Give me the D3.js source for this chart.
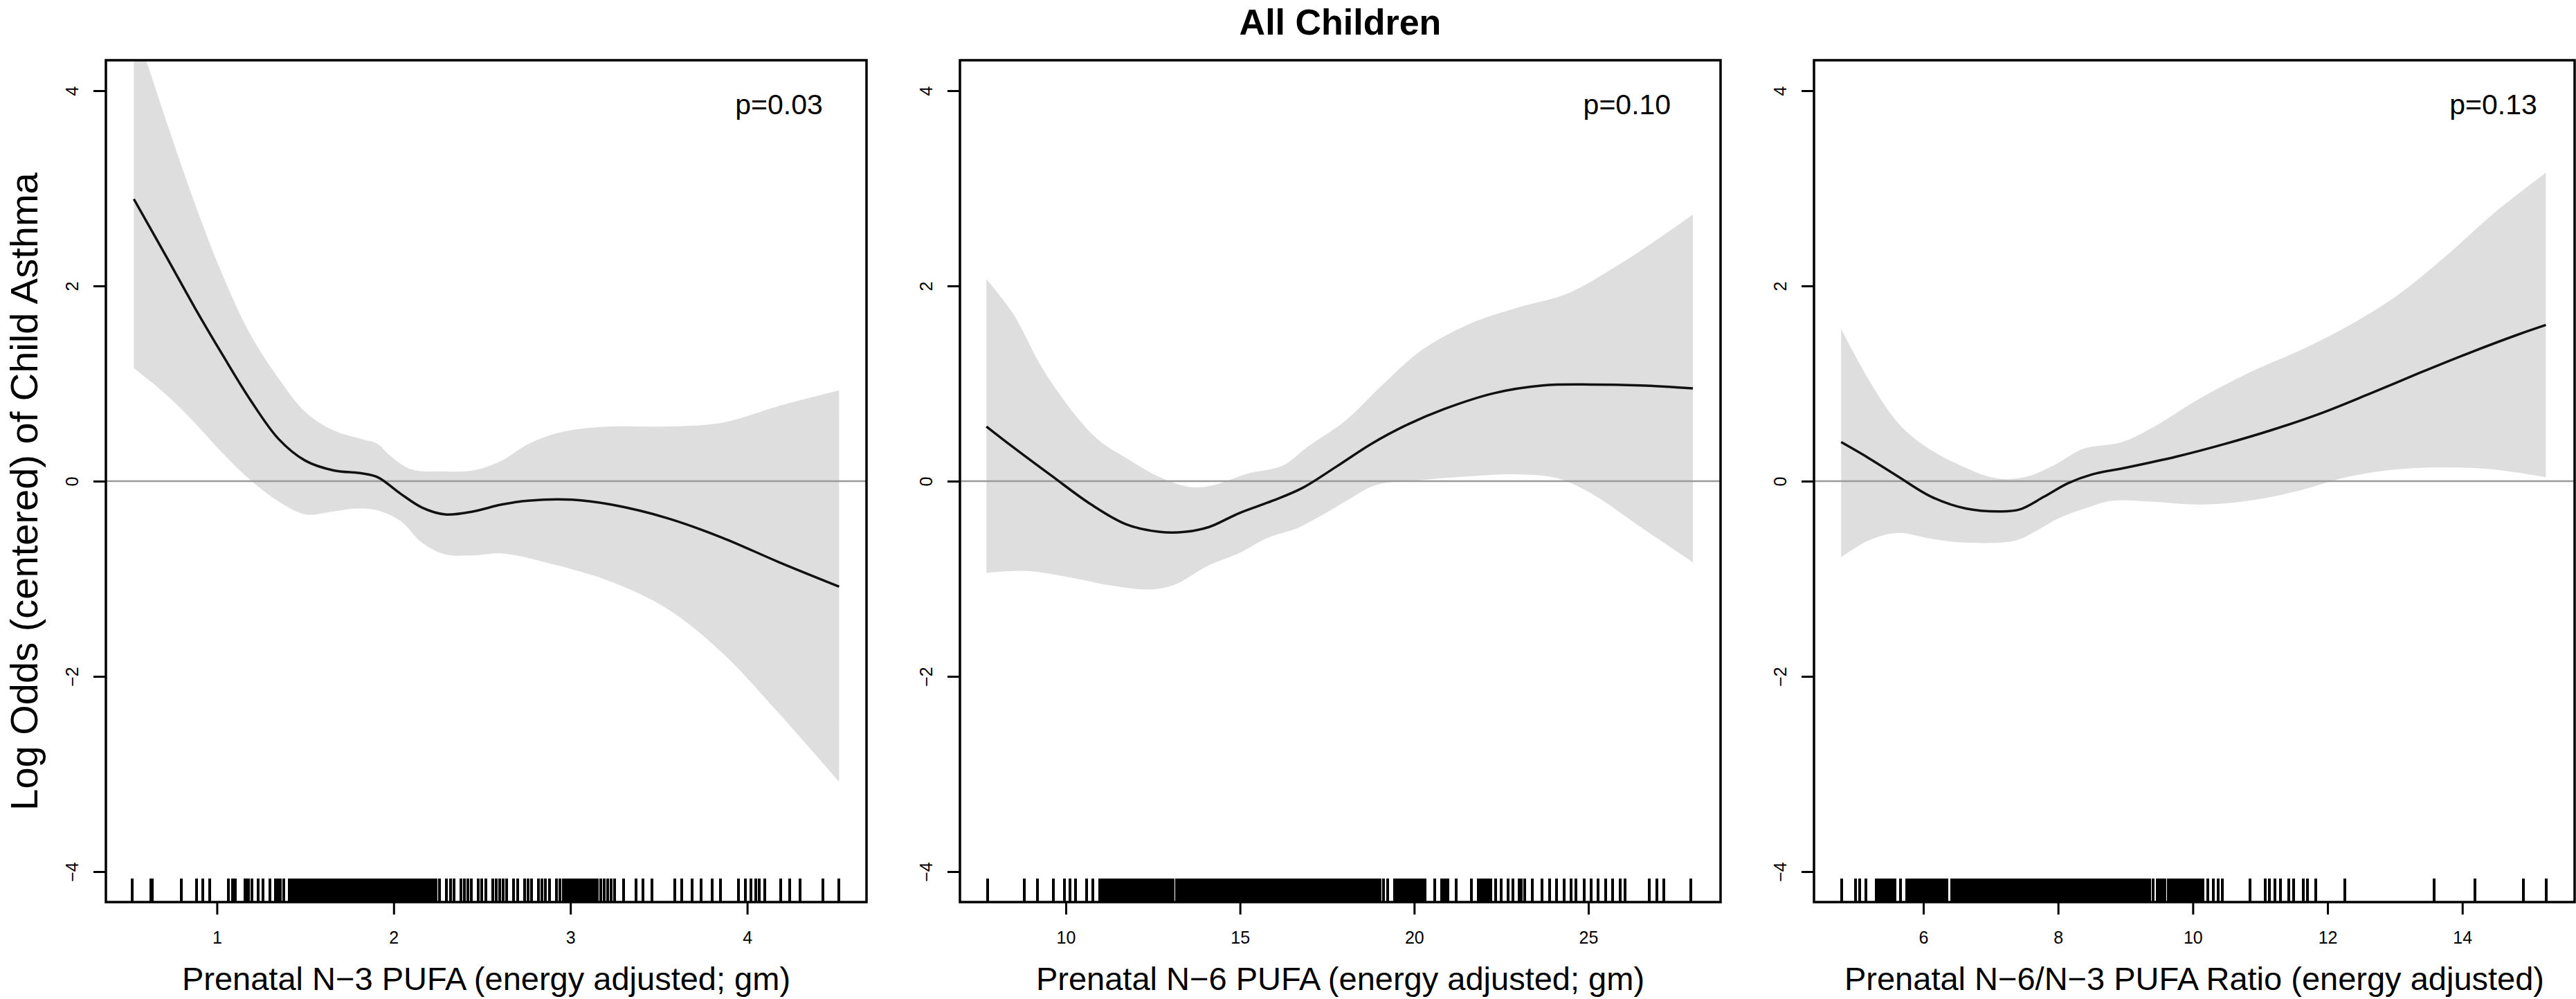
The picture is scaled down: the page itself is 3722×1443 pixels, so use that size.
<!DOCTYPE html>
<html><head><meta charset="utf-8">
<script src="https://cdn.jsdelivr.net/npm/d3@7"></script>
<style>
html,body{margin:0;padding:0;background:#fff;}
svg{display:block;}
text{font-family:"Liberation Sans",Arial,Helvetica,sans-serif;fill:#000;}
</style>
</head><body>
<svg id="chart" width="3722" height="1443"></svg>
<script>
// ---------------- DATA ----------------
const title = "All Children";
const yAxisLabel = "Log Odds (centered) of Child Asthma";
const yTicks = [-4, -2, 0, 2, 4];

const xLabels = ["Prenatal N\u22123 PUFA (energy adjusted; gm)",
                 "Prenatal N\u22126 PUFA (energy adjusted; gm)",
                 "Prenatal N\u22126/N\u22123 PUFA Ratio (energy adjusted)"];
const pValues = ["p=0.03", "p=0.10", "p=0.13"];

const n3Ticks = [1, 2, 3, 4];
const n6Ticks = [10, 15, 20, 25];
const ratioTicks = [6, 8, 10, 12, 14];

// Panel 1: N-3 PUFA
const n3Fit = [[0.53,2.89],[0.717,2.29],[0.874,1.78],[1.03,1.30],[1.19,0.83],[1.35,0.43],[1.50,0.21],[1.66,0.11],[1.82,0.08],[1.91,0.04],[2.04,-0.13],[2.16,-0.27],[2.29,-0.34],[2.45,-0.31],[2.61,-0.24],[2.76,-0.20],[3.01,-0.19],[3.23,-0.24],[3.55,-0.38],[3.86,-0.58],[4.18,-0.83],[4.52,-1.08]];
const n3Upper = [[0.53,4.63],[0.597,4.32],[0.717,3.67],[0.874,2.85],[1.03,2.12],[1.19,1.50],[1.35,1.05],[1.50,0.71],[1.66,0.52],[1.82,0.43],[1.91,0.38],[1.98,0.26],[2.10,0.12],[2.29,0.10],[2.45,0.11],[2.61,0.21],[2.76,0.38],[2.92,0.49],[3.08,0.54],[3.23,0.56],[3.55,0.56],[3.86,0.60],[4.18,0.77],[4.52,0.93]];
const n3Lower = [[0.53,1.16],[0.717,0.88],[0.874,0.60],[1.03,0.29],[1.19,0.01],[1.35,-0.21],[1.50,-0.34],[1.66,-0.31],[1.79,-0.28],[1.91,-0.30],[2.04,-0.41],[2.16,-0.63],[2.29,-0.75],[2.45,-0.76],[2.61,-0.74],[2.92,-0.86],[3.23,-1.03],[3.55,-1.31],[3.86,-1.76],[4.18,-2.38],[4.52,-3.08]];
const n3Rug = [0.52,0.625,0.635,0.80,0.885,0.92,0.96,1.065,1.09,1.105,1.16,1.17,1.18,1.20,1.235,1.26,1.30,1.33,1.345,1.36,1.38,
1.41,1.42,1.43,1.44,1.45,1.46,1.47,1.48,1.49,1.50,1.51,1.52,1.53,1.54,1.55,1.56,1.57,1.58,1.59,1.60,1.61,1.62,1.63,1.64,1.65,1.66,1.67,1.68,1.69,1.70,1.71,1.72,1.73,1.74,1.75,1.76,1.77,1.78,1.79,1.80,1.81,1.82,1.83,1.84,1.85,1.86,1.87,1.88,1.89,1.90,1.91,1.92,1.93,1.94,1.95,1.96,1.97,1.98,1.99,2.00,2.01,2.02,2.03,2.04,2.05,2.06,2.07,2.08,2.09,2.10,2.11,2.12,2.13,2.14,2.15,2.16,2.17,2.18,2.19,2.20,2.21,2.22,2.23,2.24,
2.26,2.30,2.32,2.34,2.38,2.40,2.42,2.44,2.48,2.50,2.52,2.56,2.58,2.60,2.62,2.64,2.68,2.70,2.74,2.76,2.78,2.82,2.84,2.86,2.88,2.92,2.94,2.96,
2.97,2.98,2.99,3.00,3.01,3.02,3.03,3.04,3.05,3.06,3.07,3.08,3.09,3.10,3.11,3.12,3.13,3.14,3.15,
3.17,3.19,3.21,3.23,3.25,3.30,3.37,3.41,3.46,3.59,3.63,3.69,3.74,3.80,3.85,3.95,3.99,4.02,4.05,4.07,4.10,4.19,4.24,4.30,4.43,4.52];

// Panel 2: N-6 PUFA
const n6Fit = [[7.72,0.56],[8.48,0.35],[9.61,0.05],[10.73,-0.24],[11.72,-0.44],[12.70,-0.52],[13.41,-0.52],[14.11,-0.47],[14.96,-0.33],[15.94,-0.20],[16.79,-0.07],[17.77,0.15],[18.76,0.38],[19.75,0.57],[20.87,0.74],[22.28,0.90],[23.69,0.98],[25.1,0.99],[26.5,0.98],[28.0,0.95]];
const n6Upper = [[7.72,2.07],[8.48,1.72],[9.32,1.16],[10.31,0.66],[11.01,0.40],[11.72,0.24],[12.70,0.04],[13.55,-0.06],[14.25,-0.04],[15.24,0.08],[16.23,0.16],[16.93,0.35],[18.06,0.63],[19.04,0.97],[20.17,1.33],[21.58,1.61],[22.99,1.78],[24.39,1.92],[25.80,2.20],[26.79,2.43],[28.0,2.73]];
const n6Lower = [[7.72,-0.94],[8.90,-0.92],[10.31,-1.00],[11.30,-1.07],[12.42,-1.11],[13.13,-1.06],[14.11,-0.86],[14.96,-0.74],[15.80,-0.58],[16.65,-0.48],[17.35,-0.35],[18.06,-0.20],[18.90,-0.04],[20.17,0.01],[21.58,0.05],[22.99,0.07],[24.11,0.03],[25.10,-0.13],[26.5,-0.47],[28.0,-0.83]];
const n6Rug = [7.76,8.81,9.19,9.65,9.97,10.11,10.28,10.59,10.77,10.98,
11.01,11.07,11.13,11.19,11.25,11.31,11.37,11.43,11.49,11.55,11.61,11.67,11.73,11.79,11.85,11.91,11.97,12.03,12.09,12.15,12.21,12.27,12.33,12.39,12.45,12.51,12.57,12.63,12.69,12.75,12.81,12.87,12.93,12.99,13.05,13.08,
13.18,13.24,13.30,13.36,13.42,13.48,13.54,13.60,13.66,13.72,13.78,13.84,13.90,13.96,14.02,14.08,14.14,14.20,14.26,14.32,14.38,14.44,14.50,14.56,14.62,14.68,14.74,14.80,14.86,14.92,14.98,15.04,15.10,15.16,15.22,15.28,15.34,15.40,15.46,15.52,15.58,15.64,15.70,15.76,15.82,15.88,15.94,16.00,16.06,16.12,16.18,16.24,16.30,16.36,16.42,16.48,16.54,16.60,16.66,16.72,16.78,16.84,16.90,16.96,17.02,17.08,17.14,17.20,17.26,17.32,17.38,17.44,17.50,17.56,17.62,17.68,17.74,17.80,17.86,17.92,17.98,18.04,18.10,18.16,18.22,18.28,18.34,18.40,18.46,18.52,18.58,18.64,18.70,18.76,18.82,18.88,18.94,
19.02,19.12,19.24,
19.43,19.49,19.55,19.61,19.67,19.73,19.79,19.85,19.91,19.97,20.03,20.09,20.15,20.21,20.27,20.31,
20.59,20.78,20.84,20.90,20.96,21.20,21.64,21.85,21.91,21.97,22.03,22.09,22.15,22.20,22.34,22.50,22.69,22.83,23.01,23.07,23.18,23.39,23.67,23.88,24.09,24.30,24.51,24.65,24.89,25.07,25.28,25.49,25.70,25.91,26.05,26.75,26.96,27.17,27.95];

// Panel 3: N-6/N-3 ratio
const ratioFit = [[4.78,0.40],[5.18,0.24],[5.62,0.05],[6.12,-0.16],[6.63,-0.28],[7.14,-0.31],[7.43,-0.29],[7.79,-0.16],[8.15,-0.02],[8.51,0.07],[9.02,0.14],[9.75,0.25],[10.47,0.38],[11.20,0.53],[11.92,0.70],[12.64,0.90],[13.37,1.11],[14.09,1.31],[14.82,1.50],[15.24,1.60]];
const ratioUpper = [[4.78,1.56],[5.18,1.05],[5.62,0.60],[5.98,0.38],[6.49,0.18],[7.07,0.03],[7.50,0.04],[7.93,0.16],[8.37,0.33],[8.95,0.40],[9.38,0.54],[10.11,0.85],[10.83,1.11],[11.56,1.33],[12.28,1.58],[13.01,1.89],[13.73,2.29],[14.46,2.74],[15.24,3.16]];
const ratioLower = [[4.78,-0.78],[5.18,-0.61],[5.62,-0.53],[6.12,-0.59],[6.63,-0.63],[7.36,-0.61],[7.65,-0.52],[8.01,-0.38],[8.44,-0.27],[8.80,-0.20],[9.38,-0.21],[10.11,-0.24],[10.83,-0.20],[11.56,-0.10],[12.28,0.04],[13.01,0.12],[13.73,0.14],[14.46,0.12],[15.24,0.04]];
const ratioRug = [4.79,4.99,5.05,5.15,5.30,5.33,5.36,5.39,5.42,5.45,5.48,5.51,5.54,5.58,5.66,
5.75,5.78,5.81,5.84,5.87,5.90,5.93,5.96,5.99,6.02,6.05,6.08,6.11,6.14,6.17,6.20,6.23,6.26,6.29,6.32,6.35,
6.42,6.45,6.48,6.51,6.54,6.57,6.60,6.63,6.66,6.69,6.72,6.75,6.78,6.81,6.84,6.87,6.90,6.93,6.96,6.99,7.02,7.05,7.08,7.11,7.14,7.17,7.20,7.23,7.26,7.29,7.32,7.35,7.38,7.41,7.44,7.47,7.50,7.53,7.56,7.59,7.62,7.65,7.68,7.71,7.74,7.77,7.80,7.83,7.86,7.89,7.92,7.95,7.98,8.01,8.04,8.07,8.10,8.13,8.16,8.19,8.22,8.25,8.28,8.31,8.34,8.37,8.40,8.43,8.46,8.49,8.52,8.55,8.58,8.61,8.64,8.67,8.70,8.73,8.76,8.79,8.82,8.85,8.88,8.91,8.94,8.97,9.00,9.03,9.06,9.09,9.12,9.15,9.18,9.21,9.24,9.27,9.30,9.33,9.36,
9.41,9.47,9.50,9.53,9.56,9.59,
9.64,9.67,9.70,9.73,9.76,9.79,9.82,9.85,9.88,9.91,9.94,9.97,10.00,10.03,10.06,10.09,10.12,10.15,
10.22,10.30,10.38,10.44,10.85,11.08,11.14,11.22,11.30,11.42,11.50,11.64,11.70,11.82,12.26,13.58,14.19,14.91,15.245];

// ---------------- LAYOUT ----------------
const L = {
  lefts: [153, 1387, 2621], width: 1099, top: 87, bottom: 1303,
  yDomain: [-4.312, 4.312],
  xDomains: [[0.372, 4.675], [6.96, 28.795], [4.377, 15.667]],
  pCenterX: [4.18, 26.11, 14.46], pBaseline: 165,
  tickLen: 18, rugLen: 34
};

const panels = [
  {ticks: n3Ticks, fit: n3Fit, upper: n3Upper, lower: n3Lower, rug: n3Rug},
  {ticks: n6Ticks, fit: n6Fit, upper: n6Upper, lower: n6Lower, rug: n6Rug},
  {ticks: ratioTicks, fit: ratioFit, upper: ratioUpper, lower: ratioLower, rug: ratioRug}
];

const svg = d3.select("#chart");
svg.append("rect").attr("width", 3722).attr("height", 1443).attr("fill", "#fff");

const y = d3.scaleLinear().domain(L.yDomain).range([L.bottom, L.top]);

panels.forEach((p, i) => {
  const left = L.lefts[i], right = left + L.width;
  const x = d3.scaleLinear().domain(L.xDomains[i]).range([left, right]);
  const g = svg.append("g");

  const clipId = "clip" + i;
  svg.append("clipPath").attr("id", clipId).append("rect")
    .attr("x", left).attr("y", L.top).attr("width", L.width).attr("height", L.bottom - L.top);

  const line = d3.line().x(d => x(d[0])).y(d => y(d[1])).curve(d3.curveCatmullRom.alpha(0.5));
  const upPath = line(p.upper);
  const loPath = line(p.lower.slice().reverse());
  g.append("path").attr("clip-path", `url(#${clipId})`)
    .attr("d", upPath + "L" + loPath.slice(1) + "Z")
    .attr("fill", "#dedede").attr("stroke", "none");

  // zero reference line
  g.append("line").attr("x1", left).attr("x2", right).attr("y1", y(0)).attr("y2", y(0))
    .attr("stroke", "#9a9a9a").attr("stroke-width", 2.5);

  // fitted curve
  g.append("path").attr("clip-path", `url(#${clipId})`)
    .attr("d", line(p.fit)).attr("fill", "none").attr("stroke", "#111").attr("stroke-width", 3.5);

  // rug
  g.append("g").attr("shape-rendering", "crispEdges").selectAll("line").data(p.rug).join("line")
    .attr("x1", d => x(d)).attr("x2", d => x(d))
    .attr("y1", L.bottom).attr("y2", L.bottom - L.rugLen)
    .attr("stroke", "#000").attr("stroke-width", 4);

  // frame
  g.append("rect").attr("x", left).attr("y", L.top).attr("width", L.width).attr("height", L.bottom - L.top)
    .attr("fill", "none").attr("stroke", "#000").attr("stroke-width", 3.5);

  // x axis
  const xa = g.append("g").attr("transform", `translate(0,${L.bottom})`)
    .call(d3.axisBottom(x).tickValues(p.ticks).tickSize(L.tickLen).tickFormat(d3.format("d")));
  xa.select(".domain").remove();
  xa.selectAll(".tick line").attr("stroke", "#000").attr("stroke-width", 3);
  xa.selectAll(".tick text").attr("y", 60).attr("dy", null)
    .style("font-family", '"Liberation Sans",Arial,sans-serif').style("font-size", "25px").attr("fill", "#000");

  // y axis
  const ya = g.append("g").attr("transform", `translate(${left},0)`)
    .call(d3.axisLeft(y).tickValues(yTicks).tickSize(L.tickLen).tickFormat(d3.format("d")));
  ya.select(".domain").remove();
  ya.selectAll(".tick line").attr("stroke", "#000").attr("stroke-width", 3);
  ya.selectAll(".tick text").attr("x", null).attr("dy", null).attr("text-anchor", "middle")
    .attr("transform", "translate(-40,0) rotate(-90)")
    .style("font-family", '"Liberation Sans",Arial,sans-serif').style("font-size", "25px").attr("fill", "#000");

  // x label
  g.append("text").attr("x", (left + right) / 2).attr("y", 1430).attr("text-anchor", "middle")
    .style("font-size", "47px").text(xLabels[i]);

  // p-value
  g.append("text").attr("x", x(L.pCenterX[i])).attr("y", L.pBaseline).attr("text-anchor", "middle")
    .style("font-size", "41px").text(pValues[i]);
});

// title
svg.append("text").attr("x", L.lefts[1] + L.width / 2).attr("y", 50).attr("text-anchor", "middle")
  .style("font-size", "52px").style("font-weight", "bold").text(title);

// y label
svg.append("text").attr("transform", "translate(54,710) rotate(-90)").attr("text-anchor", "middle")
  .style("font-size", "56px").text(yAxisLabel);
</script>
</body></html>
